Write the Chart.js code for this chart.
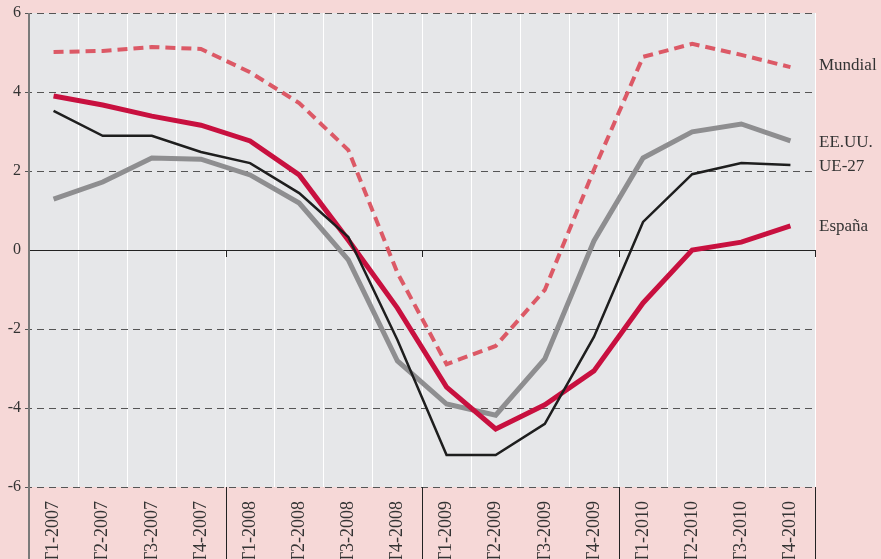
<!DOCTYPE html>
<html>
<head>
<meta charset="utf-8">
<script src="https://cdn.jsdelivr.net/npm/chart.js@4.4.1/dist/chart.umd.min.js"></script>
<style>
  html, body { margin: 0; padding: 0; background: #f6d8d7; overflow: hidden; }
  #wrap { width: 881px; height: 559px; position: relative; }
</style>
</head>
<body>
<div id="wrap"><canvas id="chart"></canvas></div>
<script>
const categories = [
    'T1-2007', 'T2-2007', 'T3-2007', 'T4-2007',
    'T1-2008', 'T2-2008', 'T3-2008', 'T4-2008',
    'T1-2009', 'T2-2009', 'T3-2009', 'T4-2009',
    'T1-2010', 'T2-2010', 'T3-2010', 'T4-2010'
];
const mundial = [5.01, 5.04, 5.14, 5.09, 4.5, 3.72, 2.53, -0.58, -2.89, -2.43, -1.01, 2.03, 4.89, 5.22, 4.94, 4.63];
const espana = [3.9, 3.67, 3.39, 3.16, 2.76, 1.9, 0.25, -1.47, -3.47, -4.53, -3.92, -3.06, -1.34, 0.0, 0.2, 0.61];
const ue27 = [3.52, 2.89, 2.89, 2.48, 2.2, 1.44, 0.33, -2.28, -5.19, -5.19, -4.4, -2.2, 0.71, 1.92, 2.2, 2.15];
const eeuu = [1.29, 1.72, 2.33, 2.3, 1.9, 1.19, -0.25, -2.81, -3.9, -4.18, -2.76, 0.23, 2.33, 2.99, 3.19, 2.76];
const yTicks = [-6, -4, -2, 0, 2, 4, 6];
const yearBreaks = [4, 8, 12];

Chart.defaults.font.family = "'Liberation Serif', 'DejaVu Serif', serif";
Chart.defaults.color = '#333';

// fondo gris del área, rejilla horizontal y separadores de año
const framePlugin = {
    id: 'frame',
    beforeDraw(chart) {
        const { ctx, chartArea: a } = chart;
        ctx.save();
        ctx.fillStyle = '#e6e7e9';
        ctx.fillRect(a.left, a.top, a.right - a.left, a.bottom - a.top);
        ctx.restore();
    },
    beforeDatasetsDraw(chart) {
        const { ctx, chartArea: a, scales } = chart;
        const y = scales.y, x = scales.x;
        ctx.save();
        yTicks.forEach(v => {
            const py = Math.round(y.getPixelForValue(v)) + 0.5;
            ctx.beginPath();
            if (v === 0) {
                ctx.setLineDash([]);
                ctx.strokeStyle = '#222';
                ctx.moveTo(a.left, py);
            } else {
                ctx.setLineDash([7, 5]);
                ctx.strokeStyle = '#555';
                ctx.moveTo(a.left - 4, py);
            }
            ctx.lineWidth = 1.2;
            ctx.lineTo(a.right, py);
            ctx.stroke();
        });
        ctx.setLineDash([]);

        const zeroY = y.getPixelForValue(0);
        const edges = yearBreaks.map(i => (x.getPixelForTick(i - 1) + x.getPixelForTick(i)) / 2);
        edges.push(a.right);
        ctx.strokeStyle = '#222';
        ctx.lineWidth = 1;
        edges.forEach(px => {
            px = Math.round(px) + 0.5;
            ctx.beginPath();
            ctx.moveTo(px, a.bottom);
            ctx.lineTo(px, chart.height);
            ctx.moveTo(px, zeroY);
            ctx.lineTo(px, zeroY + 7);
            ctx.stroke();
        });

        ctx.strokeStyle = '#7a7a7a';
        ctx.lineWidth = 2;
        ctx.beginPath();
        ctx.moveTo(a.left, a.top);
        ctx.lineTo(a.left, chart.height);
        ctx.stroke();
        ctx.restore();
    },
    afterDatasetsDraw(chart) {
        const { ctx, chartArea: a, scales } = chart;
        ctx.save();
        ctx.font = "17px 'Liberation Serif', 'DejaVu Serif', serif";
        ctx.fillStyle = '#333';
        ctx.textBaseline = 'middle';
        chart.data.datasets.forEach(ds => {
            const last = ds.data[ds.data.length - 1];
            ctx.fillText(ds.label, a.right + 4, scales.y.getPixelForValue(last) + ds.labelShift);
        });
        ctx.restore();
    }
};

new Chart(document.getElementById('chart'), {
    type: 'line',
    data: {
        labels: categories,
        datasets: [
            {
                label: 'EE.UU.', data: eeuu, borderColor: '#8e8e90', borderWidth: 5,
                labelShift: 2, order: 4
            },
            {
                label: 'España', data: espana, borderColor: '#c8103f', borderWidth: 5,
                labelShift: 1, order: 3
            },
            {
                label: 'UE-27', data: ue27, borderColor: '#1e1e1e', borderWidth: 2.5,
                labelShift: 1, order: 2
            },
            {
                label: 'Mundial', data: mundial, borderColor: '#dc5966', borderWidth: 4,
                borderDash: [10, 6], labelShift: -2, order: 1
            }
        ]
    },
    options: {
        responsive: true,
        maintainAspectRatio: false,
        animation: false,
        layout: { padding: { top: 13, right: 66, left: 0, bottom: 0 } },
        elements: {
            point: { radius: 0 },
            line: { tension: 0, borderJoinStyle: 'miter', fill: false }
        },
        plugins: {
            legend: { display: false },
            tooltip: { enabled: false }
        },
        scales: {
            x: {
                offset: true,
                grid: { offset: true, color: '#ffffff', lineWidth: 1, drawTicks: false },
                border: { display: false },
                ticks: {
                    minRotation: 90, maxRotation: 90, padding: 14,
                    color: '#333', font: { size: 18 }, autoSkip: false
                },
                afterFit(scale) {
                    scale.height = 72;
                    scale.paddingLeft = 0;
                    scale.paddingRight = 0;
                }
            },
            y: {
                min: -6, max: 6,
                grid: { display: false, drawTicks: false },
                border: { display: false },
                ticks: {
                    stepSize: 2, padding: 8,
                    color: '#333', font: { size: 16 }
                },
                afterFit(scale) {
                    scale.width = 29;
                    scale.paddingTop = 0;
                    scale.paddingBottom = 0;
                }
            }
        }
    },
    plugins: [framePlugin]
});
</script>
</body>
</html>
